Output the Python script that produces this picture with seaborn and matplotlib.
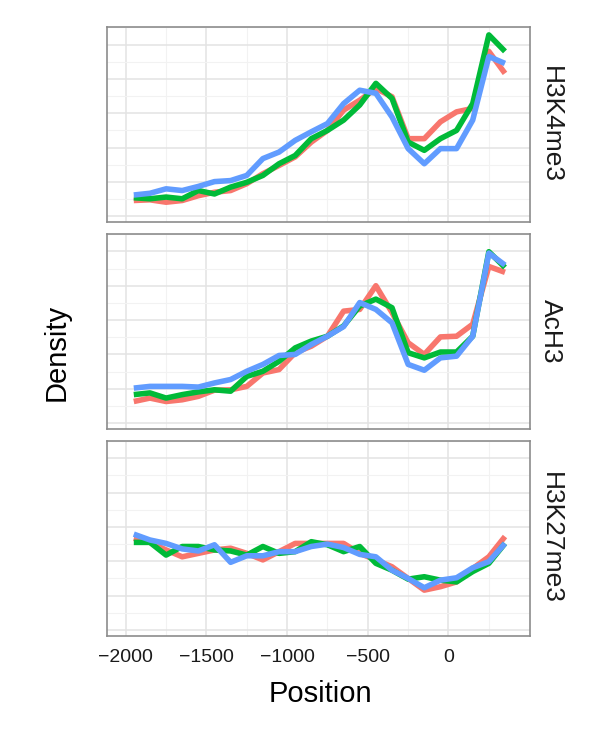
import pandas as pd
import seaborn as sns
import matplotlib.pyplot as plt

# x positions of the profile bins
positions = [-1950, -1850, -1750, -1650, -1550, -1450, -1350, -1250,
             -1150, -1050, -950, -850, -750, -650, -550, -450,
             -350, -250, -150, -50, 50, 150, 250, 350]

marks = ["H3K4me3", "AcH3", "H3K27me3"]
groups = ["group1", "group2", "group3"]
colors = ["#F8766D", "#00BA38", "#619CFF"]

# density values (arbitrary units, shared y scale)
h3k4me3_g1 = [0.46, 0.48, 0.41, 0.46, 0.60, 0.70, 0.75, 0.95, 1.24, 1.48, 1.73, 2.16,
              2.50, 3.09, 3.38, 3.72, 3.48, 2.26, 2.26, 2.75, 3.04, 3.14, 4.80, 4.16]
h3k4me3_g2 = [0.54, 0.51, 0.56, 0.51, 0.75, 0.65, 0.85, 0.99, 1.19, 1.53, 1.77, 2.26,
              2.50, 2.80, 3.24, 3.87, 3.43, 2.16, 1.92, 2.26, 2.50, 3.28, 5.28, 4.80]
h3k4me3_g3 = [0.62, 0.67, 0.80, 0.75, 0.87, 1.01, 1.04, 1.19, 1.68, 1.87, 2.21, 2.46,
              2.70, 3.28, 3.67, 3.58, 2.89, 1.97, 1.53, 1.97, 1.97, 2.80, 4.65, 4.45]

ach3_g1 = [0.63, 0.73, 0.63, 0.68, 0.78, 0.96, 0.97, 1.07, 1.46, 1.56, 2.05, 2.24,
           2.53, 3.26, 3.31, 4.00, 3.22, 2.34, 2.00, 2.51, 2.53, 2.88, 4.56, 4.39]
ach3_g2 = [0.83, 0.88, 0.73, 0.83, 0.91, 0.97, 0.93, 1.36, 1.51, 1.80, 2.19, 2.39,
           2.53, 2.83, 3.41, 3.61, 3.36, 2.05, 1.90, 2.07, 2.07, 2.53, 4.99, 4.53]
ach3_g3 = [1.02, 1.07, 1.07, 1.07, 1.05, 1.17, 1.27, 1.51, 1.71, 1.97, 2.00, 2.29,
           2.53, 2.81, 3.51, 3.31, 2.92, 1.71, 1.54, 1.90, 1.95, 2.53, 4.95, 4.60]

h3k27me3_g1 = [2.67, 2.55, 2.33, 2.13, 2.23, 2.33, 2.38, 2.23, 2.04, 2.28, 2.52, 2.52,
               2.52, 2.52, 2.23, 2.04, 1.84, 1.50, 1.16, 1.26, 1.40, 1.79, 2.13, 2.72]
h3k27me3_g2 = [2.55, 2.55, 2.18, 2.43, 2.43, 2.33, 2.30, 2.18, 2.43, 2.23, 2.28, 2.57,
               2.48, 2.28, 2.43, 1.94, 1.74, 1.48, 1.55, 1.45, 1.40, 1.70, 1.94, 2.52]
h3k27me3_g3 = [2.79, 2.62, 2.52, 2.36, 2.30, 2.48, 1.97, 2.16, 2.16, 2.28, 2.28, 2.43,
               2.50, 2.40, 2.20, 2.13, 1.74, 1.50, 1.23, 1.45, 1.52, 1.81, 1.99, 2.52]

series = {
    "H3K4me3": [h3k4me3_g1, h3k4me3_g2, h3k4me3_g3],
    "AcH3": [ach3_g1, ach3_g2, ach3_g3],
    "H3K27me3": [h3k27me3_g1, h3k27me3_g2, h3k27me3_g3],
}

rows = []
for mark in marks:
    for group, values in zip(groups, series[mark]):
        for pos, val in zip(positions, values):
            rows.append({"mark": mark, "group": group, "Position": pos, "Density": val})
df = pd.DataFrame(rows)

sns.set_style("white")
plt.rcParams["font.family"] = ["Liberation Sans", "DejaVu Sans"]

W, H = 600, 732
fig, axes = plt.subplots(3, 1, figsize=(W / 100, H / 100), dpi=100, sharex=True, sharey=True)
fig.subplots_adjust(left=107 / W, right=530 / W, top=1 - 27 / H, bottom=1 - 636 / H, hspace=0.059)

for ax, mark in zip(axes, marks):
    sns.lineplot(data=df[df["mark"] == mark], x="Position", y="Density", hue="group",
                 hue_order=groups, palette=colors, linewidth=4, estimator=None,
                 sort=False, legend=False, solid_capstyle="butt", ax=ax)
    ax.set_xlim(-2116, 505)
    ax.set_ylim(-0.175, 5.51)
    ax.set_xticks([-2000, -1500, -1000, -500, 0])
    ax.set_xticks([-1750, -1250, -750, -250, 250], minor=True)
    ax.set_yticks([0, 1, 2, 3, 4, 5])
    ax.set_yticks([0.5, 1.5, 2.5, 3.5, 4.5, 5.5], minor=True)
    ax.grid(which="major", color="#e3e3e3", linewidth=1.1)
    ax.grid(which="minor", color="#f2f2f2", linewidth=0.8)
    ax.set_axisbelow(True)
    ax.tick_params(axis="both", which="both", length=0)
    ax.tick_params(axis="x", labelsize=14, labelcolor="#1a1a1a", pad=9)
    ax.set_yticklabels([])
    ax.set_xlabel("")
    ax.set_ylabel("")
    for spine in ax.spines.values():
        spine.set_color("#8c8c8c")
        spine.set_linewidth(1.2)
    # facet strip label on the right
    ax.text(1.05, 0.5, mark, transform=ax.transAxes, rotation=-90,
            ha="center", va="center", fontsize=19, color="#1a1a1a")

fig.text(57 / W, 1 - 352 / H, "Density", rotation=90, ha="center", va="center",
         fontsize=21, color="black")
fig.text(320 / W, 1 - 694 / H, "Position", ha="center", va="center",
         fontsize=21, color="black")

plt.savefig("out.png", dpi=100)
